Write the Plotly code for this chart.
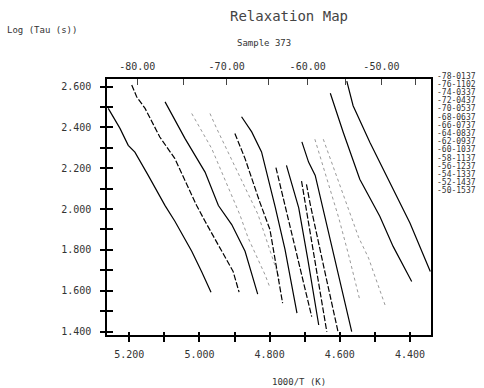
import plotly.graph_objects as go

# ---- tick definitions ----
x_ticks = [5.2, 5.1, 5.0, 4.9, 4.8, 4.7, 4.6, 4.5, 4.4]
x_tick_labels = ["5.200", "", "5.000", "", "4.800", "", "4.600", "", "4.400"]
y_ticks = [1.4, 1.5, 1.6, 1.7, 1.8, 1.9, 2.0, 2.1, 2.2, 2.3, 2.4, 2.5, 2.6]
y_tick_labels = ["1.400", "", "1.600", "", "1.800", "", "2.000", "", "2.200", "", "2.400", "", "2.600"]
temp_ticks_c = [-80, -75, -70, -65, -60, -55, -50, -45]
temp_tick_labels = ["-80.00", "", "-70.00", "", "-60.00", "", "-50.00", ""]

legend_labels = ["-78-0137", "-76-1102", "-74-0337", "-72-0437", "-70-0537",
                 "-68-0637", "-66-0737", "-64-0837", "-62-0937", "-60-1037",
                 "-58-1137", "-56-1237", "-54-1337", "-52-1437", "-50-1537"]

# ---- curves: 1000/T (1/K) vs Log(Tau) ----
curve_x = [
    [5.260, 5.2265, 5.203, 5.184, 5.146, 5.098, 5.070, 5.022, 4.994, 4.967],
    [5.193, 5.179, 5.155, 5.113, 5.070, 5.008, 4.984, 4.937, 4.904, 4.887],
    [5.098, 5.041, 4.984, 4.946, 4.908, 4.870, 4.834],
    [5.022, 4.984, 4.965, 4.885, 4.861, 4.813, 4.800],
    [4.970, 4.951, 4.833, 4.811, 4.771],
    [4.899, 4.870, 4.828, 4.799, 4.763],
    [4.880, 4.851, 4.823, 4.799, 4.784, 4.756, 4.722],
    [4.782, 4.756, 4.719, 4.680],
    [4.752, 4.717, 4.691, 4.660],
    [4.709, 4.674, 4.637],
    [4.695, 4.684, 4.645, 4.605],
    [4.708, 4.689, 4.670, 4.651, 4.608, 4.566],
    [4.671, 4.603, 4.575, 4.543],
    [4.647, 4.546, 4.518, 4.471],
    [4.627, 4.590, 4.543, 4.486, 4.448, 4.395],
    [4.580, 4.562, 4.514, 4.457, 4.400, 4.342],
]
curve_y = [
    [2.493, 2.395, 2.312, 2.279, 2.165, 2.017, 1.940, 1.793, 1.694, 1.593],
    [2.608, 2.550, 2.493, 2.353, 2.247, 2.017, 1.940, 1.793, 1.694, 1.593],
    [2.525, 2.345, 2.181, 2.017, 1.924, 1.793, 1.583],
    [2.468, 2.353, 2.296, 1.973, 1.858, 1.678, 1.620],
    [2.468, 2.395, 1.973, 1.858, 1.653],
    [2.370, 2.247, 2.034, 1.899, 1.539],
    [2.452, 2.378, 2.280, 2.116, 2.009, 1.801, 1.490],
    [2.203, 2.022, 1.752, 1.473],
    [2.214, 2.006, 1.752, 1.432],
    [2.137, 1.776, 1.399],
    [2.121, 2.022, 1.712, 1.399],
    [2.329, 2.230, 2.165, 2.022, 1.712, 1.399],
    [2.342, 1.957, 1.776, 1.555],
    [2.342, 1.860, 1.760, 1.530],
    [2.567, 2.375, 2.146, 1.965, 1.817, 1.645],
    [2.627, 2.506, 2.326, 2.129, 1.932, 1.694],
]
curve_styles = ["solid", "dash", "solid", "faint", "faint", "dash", "solid", "dash",
                "solid", "dash", "dash", "solid", "faint", "faint", "solid", "solid"]

X_RANGE = [5.2635, 4.340]
Y_RANGE = [1.383, 2.637]
FONT = "DejaVu Sans Mono"
TXT = "#333333"

fig = go.Figure()
for xs, ys, st in zip(curve_x, curve_y, curve_styles):
    if st == "faint":
        line = dict(color="#9a9a9a", width=1, dash="dot")
    elif st == "dash":
        line = dict(color="black", width=1.2, dash="6px,2px")
    else:
        line = dict(color="black", width=1.2)
    fig.add_trace(go.Scatter(x=xs, y=ys, mode="lines", line=line,
                             showlegend=False, hoverinfo="skip"))

# dummy traces to activate the overlay axes
fig.add_trace(go.Scatter(x=[], y=[], xaxis="x2", yaxis="y", showlegend=False))
fig.add_trace(go.Scatter(x=[], y=[], xaxis="x3", yaxis="y", showlegend=False))
fig.add_trace(go.Scatter(x=[], y=[], xaxis="x", yaxis="y2", showlegend=False))

temp_positions = [1000.0 / (t + 273.15) for t in temp_ticks_c]

tickfont = dict(family=FONT, size=10, color=TXT)
fig.update_layout(
    width=484, height=388, autosize=False,
    margin=dict(l=107, r=53, t=79, b=53),
    plot_bgcolor="white", paper_bgcolor="white",
    xaxis=dict(range=X_RANGE, tickvals=x_ticks, ticktext=x_tick_labels,
               ticks="outside", ticklen=5, tickwidth=1.5, tickcolor="black",
               ticklabelstandoff=4,
               showline=True, linewidth=1.5, linecolor="black", mirror=True,
               showgrid=False, zeroline=False, tickfont=tickfont),
    xaxis3=dict(range=X_RANGE, overlaying="x", anchor="y", side="bottom",
                tickvals=x_ticks, ticks="inside", ticklen=3, tickwidth=1.5,
                tickcolor="black", showticklabels=False, showline=False,
                showgrid=False, zeroline=False),
    xaxis2=dict(range=X_RANGE, overlaying="x", anchor="y", side="top",
                tickvals=temp_positions, ticktext=temp_tick_labels,
                ticks="inside", ticklen=6, tickwidth=1, tickcolor="#444",
                ticklabelstandoff=6,
                showline=False, showgrid=False, zeroline=False, tickfont=tickfont),
    yaxis=dict(range=Y_RANGE, tickvals=y_ticks, ticktext=y_tick_labels,
               ticks="outside", ticklen=5, tickwidth=1.5, tickcolor="black",
               ticklabelstandoff=7,
               showline=True, linewidth=1.5, linecolor="black", mirror=True,
               showgrid=False, zeroline=False, tickfont=tickfont),
    yaxis2=dict(range=Y_RANGE, overlaying="y", anchor="x", side="left",
                tickvals=y_ticks, ticks="inside", ticklen=6, tickwidth=1.5,
                tickcolor="black", showticklabels=False, showline=False,
                showgrid=False, zeroline=False),
)

PW, PH = 484 - 107 - 53, 388 - 79 - 53


def px_x(px):
    return (px - 107) / PW


def px_y(py):
    return (388 - 53 - py) / PH


annotations = [
    dict(text="Relaxation Map", x=px_x(289), y=px_y(16), font=dict(family=FONT, size=14, color="#444")),
    dict(text="Sample 373", x=px_x(264), y=px_y(43), font=dict(family=FONT, size=9, color=TXT)),
    dict(text="Log (Tau (s))", x=px_x(5), y=px_y(30), xanchor="left", font=dict(family=FONT, size=9, color=TXT)),
    dict(text="1000/T (K)", x=px_x(299), y=px_y(382), font=dict(family=FONT, size=9, color=TXT)),
]
for i, lab in enumerate(legend_labels):
    annotations.append(dict(text=lab, x=px_x(435), y=px_y(76 + i * 8.2), xanchor="left",
                            font=dict(family=FONT, size=8, color=TXT)))
for a in annotations:
    a.setdefault("xanchor", "center")
    a.update(xref="paper", yref="paper", yanchor="middle", showarrow=False)
fig.update_layout(annotations=annotations)

fig.write_html("out.html", config={"displayModeBar": False},
               post_script="document.body.style.margin='0';document.body.style.padding='0';")
